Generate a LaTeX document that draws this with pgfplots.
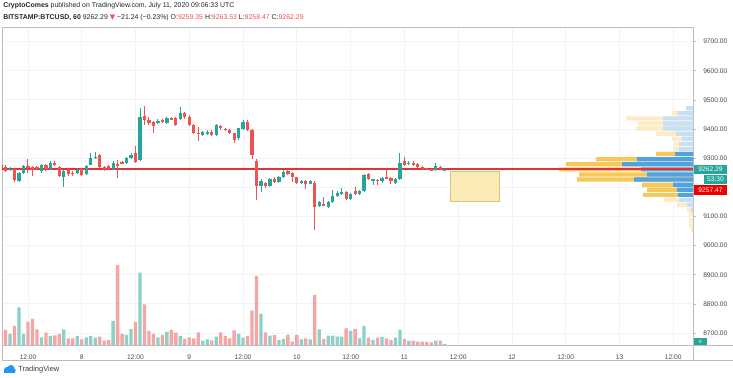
\documentclass[border=0pt]{standalone}
\usepackage{pgfplots}
\pgfplotsset{compat=1.18}
\usepackage{pgfplotstable}
\usepackage{fontspec}
\setmainfont{Liberation Sans}
\newfontfamily\symfont{DejaVu Sans}
\definecolor{cG}{RGB}{38,166,154}
\definecolor{cR}{RGB}{239,83,80}
\definecolor{vG}{RGB}{140,208,200}
\definecolor{vR}{RGB}{244,166,164}
\definecolor{pB}{RGB}{79,163,228}
\definecolor{pY}{RGB}{246,200,90}
\definecolor{pBf}{RGB}{200,224,245}
\definecolor{pYf}{RGB}{252,235,196}
\definecolor{gridc}{RGB}{240,243,248}
\definecolor{axc}{RGB}{185,188,195}
\definecolor{tcol}{RGB}{75,75,75}
\definecolor{lineR}{RGB}{228,50,50}
\definecolor{rectF}{RGB}{250,234,182}
\definecolor{rectD}{RGB}{222,196,120}
\definecolor{tvblue}{RGB}{33,150,243}
\newcommand\tvfont{\fontsize{5pt}{6pt}\selectfont}
\newcommand\hfont{\fontsize{5.2pt}{6pt}\selectfont}

\pgfplotstableread{
t o h l c v
6 9277 9283 9262 9265 43
7 9271 9275 9253 9257 45
8 9260 9268 9255 9264 33
9 9262 9265 9220 9225 57
10 9223 9253 9218 9250 113
11 9250 9276 9246 9273 33
12 9273 9296 9248 9269 69
13 9269 9272 9239 9260 78
14 9268 9272 9258 9262 47
15 9257 9280 9248 9277 23
16 9277 9280 9256 9260 37
17 9262 9290 9258 9285 27
18 9285 9290 9272 9276 29
19 9271 9274 9235 9239 33
20 9237 9260 9202 9257 47
21 9260 9265 9240 9246 20
22 9250 9256 9240 9246 20
23 9248 9265 9244 9260 27
24 9262 9266 9238 9241 17
25 9246 9276 9243 9273 23
26 9277 9317 9275 9300 27
27 9300 9320 9296 9305 22
28 9310 9314 9265 9269 25
29 9269 9272 9256 9260 13
30 9273 9276 9258 9262 15
31 9262 9290 9258 9285 72
32 9280 9294 9231 9275 240
33 9285 9290 9280 9283 33
34 9283 9303 9280 9300 30
35 9300 9316 9297 9311 48
36 9317 9342 9285 9288 69
37 9294 9471 9290 9440 217
38 9443 9479 9414 9431 122
39 9431 9440 9415 9420 42
40 9423 9428 9385 9412 33
41 9420 9433 9416 9429 23
42 9429 9433 9422 9426 30
43 9420 9441 9416 9437 39
44 9436 9440 9430 9433 45
45 9437 9441 9410 9414 37
46 9433 9477 9430 9454 27
47 9454 9458 9436 9440 18
48 9443 9447 9410 9414 23
49 9414 9418 9383 9388 20
50 9387 9408 9360 9384 38
51 9380 9393 9376 9389 13
52 9382 9395 9378 9390 17
53 9391 9395 9376 9380 14
54 9380 9418 9376 9414 25
55 9410 9414 9398 9402 38
56 9400 9404 9394 9397 27
57 9397 9400 9384 9388 20
58 9385 9388 9351 9362 44
59 9368 9405 9364 9402 33
60 9399 9430 9396 9425 22
61 9425 9430 9393 9397 27
62 9395 9399 9296 9311 103
63 9292 9296 9157 9205 207
64 9203 9227 9185 9223 93
65 9214 9218 9199 9203 38
66 9205 9232 9201 9228 28
67 9230 9234 9216 9220 30
68 9220 9240 9216 9237 15
69 9237 9258 9233 9254 18
70 9256 9260 9241 9245 30
71 9248 9251 9220 9234 10
72 9234 9237 9210 9214 30
73 9216 9226 9212 9222 17
74 9223 9226 9193 9212 20
75 9213 9226 9210 9222 17
76 9216 9220 9054 9134 150
77 9136 9152 9131 9148 47
78 9142 9166 9136 9139 18
79 9134 9152 9130 9148 28
80 9148 9191 9145 9170 28
81 9170 9186 9167 9182 25
82 9177 9197 9174 9185 25
83 9185 9189 9155 9159 50
84 9159 9181 9155 9177 42
85 9188 9202 9173 9177 48
86 9177 9192 9173 9188 20
87 9188 9246 9184 9242 57
88 9245 9249 9224 9228 22
89 9224 9230 9208 9227 15
90 9226 9230 9208 9222 22
91 9220 9235 9216 9231 24
92 9234 9260 9229 9231 20
93 9231 9235 9212 9220 15
94 9214 9232 9210 9228 22
95 9228 9319 9224 9285 45
96 9292 9305 9274 9277 18
97 9280 9289 9276 9285 12
98 9285 9289 9274 9277 13
99 9280 9283 9268 9271 10
100 9269 9272 9259 9262 10
101 9264 9266 9260 9262 9
102 9262 9264 9258 9260 8
103 9260 9283 9257 9273 13
104 9271 9274 9259 9262 13
105 9259.35 9263.53 9258.47 9262.29 3
}\candles

\pgfplotsset{tvaxis/.style={at={(1.5pt,24.75pt)}, anchor=south west, scale only axis,
  width=518.25pt, height=238.5pt, xmin=6.2, xmax=160.4, ymin=8659, ymax=9750}}

\begin{document}
\begin{tikzpicture}
\fill[white] (0,0) rectangle (549.75pt,283.5pt);
\path[use as bounding box] (0,0) rectangle (549.75pt,283.5pt);

% grid, frame and tick labels
\begin{axis}[tvaxis,
  axis line style={draw=axc, line width=0.6pt},
  xtick={12,24,36,48,60,72,84,96,108,120,132,144,156},
  xticklabels={12:00,8,12:00,9,12:00,10,12:00,11,12:00,12,12:00,13,12:00},
  ytick={8700,8800,8900,9000,9100,9200,9300,9400,9500,9600,9700},
  yticklabels={8700.00,8800.00,8900.00,9000.00,9100.00,{},9300.00,9400.00,9500.00,9600.00,9700.00},
  grid=major, major grid style={draw=gridc, line width=0.6pt},
  ytick pos=right, yticklabel pos=right, xtick pos=bottom,
  tick align=outside, major tick length=2.5pt,
  x tick style={draw=none}, y tick style={draw=axc, line width=0.5pt},
  xticklabel style={font=\tvfont, text=tcol, anchor=center, yshift=-6.75pt},
  yticklabel style={font=\tvfont, text=tcol, anchor=center, xshift=14.25pt},
]
\addplot[fill=rectF, draw=rectD, line width=0.6pt] coordinates {(106.2,9153) (117.1,9153) (117.1,9253) (106.2,9253) (106.2,9153)};
\end{axis}

% volume
\begin{axis}[tvaxis, ymin=0, ymax=954, hide axis]
\addplot[ybar, bar width=0.74, bar shift=0pt, fill=vG, draw=none,
  restrict expr to domain={\thisrow{c}-\thisrow{o}}{0:100000}] table[x=t, y=v] {\candles};
\addplot[ybar, bar width=0.74, bar shift=0pt, fill=vR, draw=none,
  restrict expr to domain={\thisrow{c}-\thisrow{o}}{-100000:-0.001}] table[x=t, y=v] {\candles};
\end{axis}

% volume profile
\begin{axis}[tvaxis, xmin=0, xmax=691, x dir=reverse, hide axis]
\addplot[xbar, bar width=14.5, bar shift=0pt, fill=pYf, draw=none] coordinates {
(7,9471.5) (21,9454) (67,9436.5) (55,9419) (57,9401.5) (37,9384) (21,9366.5) (19,9349) (20,9331.5)
(29,9156.5) (16,9139) (6,9121.5) (4,9104) (4,9086.5) (4,9069) (2,9051.5)};
\addplot[xbar, bar width=14.5, bar shift=0pt, fill=pBf, draw=none] coordinates {
(7,9471.5) (15,9454) (30,9436.5) (30,9419) (30,9401.5) (17,9384) (11,9366.5) (14,9349) (14,9331.5)
(14,9156.5) (6,9139) (2,9121.5)};
\addplot[xbar, bar width=14.5, bar shift=0pt, fill=pY, draw=none] coordinates {
(37,9314) (97,9296.5) (127,9279) (134,9261.5) (114,9244) (116,9226.5) (51,9209) (46,9191.5) (50,9174)};
\addplot[xbar, bar width=14.5, bar shift=0pt, fill=pB, draw=none] coordinates {
(18,9314) (56,9296.5) (71,9279) (52,9261.5) (46,9244) (59,9226.5) (20,9209) (16,9191.5) (15,9174)};
\end{axis}

% candles
\begin{axis}[tvaxis, hide axis]
\addplot[lineR, line width=1.1pt] coordinates {(6.2,9262.29) (160.4,9262.29)};
% wicks
\addplot[draw=none, no markers,
  restrict expr to domain={\thisrow{c}-\thisrow{o}}{0:100000},
  error bars/.cd, y dir=both, y explicit, error mark=none,
  error bar style={line width=0.75pt, draw=cG, line cap=butt}]
  table[x=t, y expr={(\thisrow{h}+\thisrow{l})/2}, y error expr={(\thisrow{h}-\thisrow{l})/2}] {\candles};
\addplot[draw=none, no markers,
  restrict expr to domain={\thisrow{c}-\thisrow{o}}{-100000:-0.001},
  error bars/.cd, y dir=both, y explicit, error mark=none,
  error bar style={line width=0.75pt, draw=cR, line cap=butt}]
  table[x=t, y expr={(\thisrow{h}+\thisrow{l})/2}, y error expr={(\thisrow{h}-\thisrow{l})/2}] {\candles};
% bodies
\addplot[draw=none, no markers,
  restrict expr to domain={\thisrow{c}-\thisrow{o}}{0:100000},
  error bars/.cd, y dir=both, y explicit, error mark=none,
  error bar style={line width=2.4pt, draw=cG, line cap=butt}]
  table[x=t, y expr={(\thisrow{o}+\thisrow{c})/2}, y error expr={max(abs(\thisrow{o}-\thisrow{c})/2,1.8)}] {\candles};
\addplot[draw=none, no markers,
  restrict expr to domain={\thisrow{c}-\thisrow{o}}{-100000:-0.001},
  error bars/.cd, y dir=both, y explicit, error mark=none,
  error bar style={line width=2.4pt, draw=cR, line cap=butt}]
  table[x=t, y expr={(\thisrow{o}+\thisrow{c})/2}, y error expr={max(abs(\thisrow{o}-\thisrow{c})/2,1.8)}] {\candles};
\end{axis}

\begin{scope}[x=0.75pt, y=0.75pt]
% frame extras
\draw[axc, line width=0.6pt] (2,18) -- (733,18);
\draw[axc, line width=0.6pt] (693,33) -- (733,33);
\draw[axc, line width=0.6pt] (693,18) -- (693,33);
\draw[axc, line width=0.6pt] (2,18) -- (2,33);
% price labels
\node[fill=cG, text=white, font=\tvfont, minimum width=24.75pt, minimum height=6.9pt, inner sep=0pt] at (710.5,208.5) {9262.29};
\node[fill=cG, text=white, font=\tvfont, minimum width=17.25pt, minimum height=6.9pt, inner sep=0pt] at (715.5,198.5) {53:30};
\node[fill=red!92!black, text=white, font=\tvfont, minimum width=24.75pt, minimum height=6.9pt, inner sep=0pt] at (710.5,188) {9257.47};
\node[fill=cG, text=white, font=\fontsize{3.5pt}{4pt}\selectfont, minimum width=9.75pt, minimum height=5pt, inner sep=0pt] at (700.5,36.5) {8};
% header
\node[anchor=west, inner sep=0pt, font=\hfont, text=black!85] at (3,372) {\textbf{CryptoComes} published on TradingView.com, July 11, 2020 09:06:33 UTC};
\node[anchor=west, inner sep=0pt, font=\hfont, text=black!85] at (3,360) {\textbf{BITSTAMP:BTCUSD, 60} 9262.29 \textcolor{cR}{{\symfont ▼}} −21.24 (−0.23\%) O:\textcolor{cR}{9259.35} H:\textcolor{cR}{9263.53} L:\textcolor{cR}{9258.47} C:\textcolor{cR}{9262.29}};
% logo
\fill[tvblue] (4,5) rectangle (15,8.5);
\fill[tvblue] (7,8) circle (3);
\fill[tvblue] (11,9.5) circle (3.5);
\fill[tvblue] (13.5,7.5) circle (2.2);
\node[anchor=west, inner sep=0pt, font=\fontsize{5.6pt}{6pt}\selectfont, text=black!75] at (18,8) {TradingView};
\end{scope}
\end{tikzpicture}
\end{document}
